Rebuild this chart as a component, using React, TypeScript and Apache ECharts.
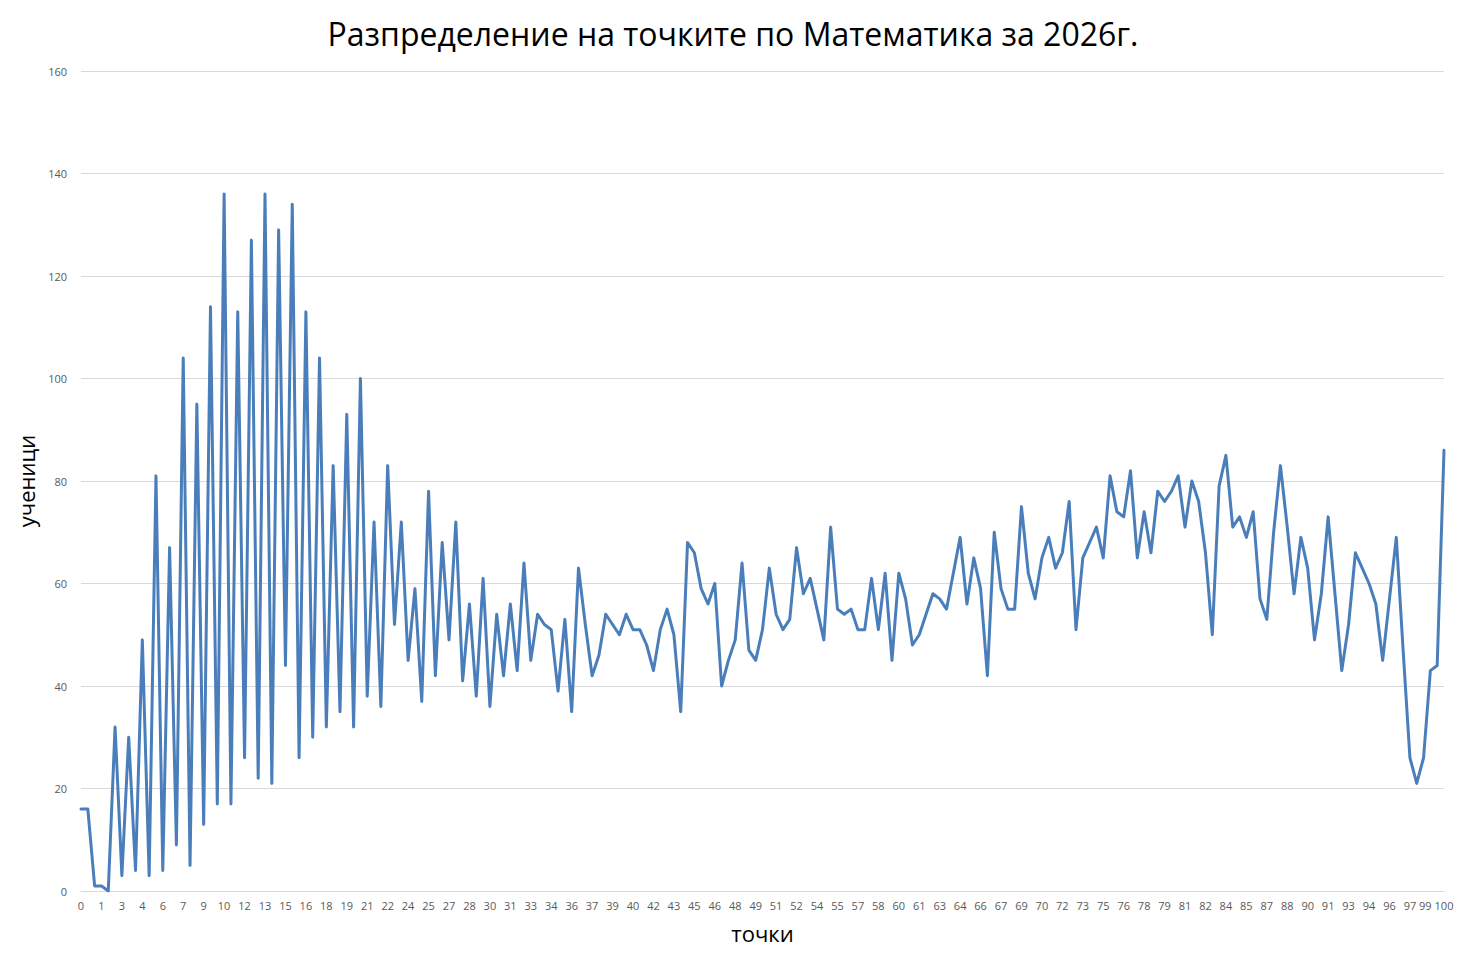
import React, { useEffect, useRef } from "react";
import * as echarts from "echarts";

const titleText = "Разпределение на точките по Математика за 2026г.";
const xAxisName = "точки";
const yAxisName = "ученици";

// points, step 0.5
const categories = [
  0, 0.5, 1, 1.5, 2, 2.5, 3, 3.5, 4, 4.5, 5, 5.5, 6, 6.5, 7, 7.5, 8, 8.5, 9, 9.5,
  10, 10.5, 11, 11.5, 12, 12.5, 13, 13.5, 14, 14.5, 15, 15.5, 16, 16.5, 17, 17.5, 18, 18.5, 19, 19.5,
  20, 20.5, 21, 21.5, 22, 22.5, 23, 23.5, 24, 24.5, 25, 25.5, 26, 26.5, 27, 27.5, 28, 28.5, 29, 29.5,
  30, 30.5, 31, 31.5, 32, 32.5, 33, 33.5, 34, 34.5, 35, 35.5, 36, 36.5, 37, 37.5, 38, 38.5, 39, 39.5,
  40, 40.5, 41, 41.5, 42, 42.5, 43, 43.5, 44, 44.5, 45, 45.5, 46, 46.5, 47, 47.5, 48, 48.5, 49, 49.5,
  50, 50.5, 51, 51.5, 52, 52.5, 53, 53.5, 54, 54.5, 55, 55.5, 56, 56.5, 57, 57.5, 58, 58.5, 59, 59.5,
  60, 60.5, 61, 61.5, 62, 62.5, 63, 63.5, 64, 64.5, 65, 65.5, 66, 66.5, 67, 67.5, 68, 68.5, 69, 69.5,
  70, 70.5, 71, 71.5, 72, 72.5, 73, 73.5, 74, 74.5, 75, 75.5, 76, 76.5, 77, 77.5, 78, 78.5, 79, 79.5,
  80, 80.5, 81, 81.5, 82, 82.5, 83, 83.5, 84, 84.5, 85, 85.5, 86, 86.5, 87, 87.5, 88, 88.5, 89, 89.5,
  90, 90.5, 91, 91.5, 92, 92.5, 93, 93.5, 94, 94.5, 95, 95.5, 96, 96.5, 97, 97.5, 98, 98.5, 99, 99.5,
  100,
];

// number of students per score
const students = [
  16, 16, 1, 1, 0, 32, 3, 30, 4, 49, 3, 81, 4, 67, 9, 104, 5, 95, 13, 114,
  17, 136, 17, 113, 26, 127, 22, 136, 21, 129, 44, 134, 26, 113, 30, 104, 32, 83, 35, 93,
  32, 100, 38, 72, 36, 83, 52, 72, 45, 59, 37, 78, 42, 68, 49, 72, 41, 56, 38, 61,
  36, 54, 42, 56, 43, 64, 45, 54, 52, 51, 39, 53, 35, 63, 52, 42, 46, 54, 52, 50,
  54, 51, 51, 48, 43, 51, 55, 50, 35, 68, 66, 59, 56, 60, 40, 45, 49, 64, 47, 45,
  51, 63, 54, 51, 53, 67, 58, 61, 55, 49, 71, 55, 54, 55, 51, 51, 61, 51, 62, 45,
  62, 57, 48, 50, 54, 58, 57, 55, 62, 69, 56, 65, 59, 42, 70, 59, 55, 55, 75, 62,
  57, 65, 69, 63, 66, 76, 51, 65, 68, 71, 65, 81, 74, 73, 82, 65, 74, 66, 78, 76,
  78, 81, 71, 80, 76, 66, 50, 79, 85, 71, 73, 69, 74, 57, 53, 70, 83, 71, 58, 69,
  63, 49, 58, 73, 58, 43, 52, 66, 63, 60, 56, 45, 57, 69, 47, 26, 21, 26, 43, 44,
  86,
];

const yMin = 0;
const yMax = 160;
const yStep = 20;
const labelEvery = 3;

export default function App() {
  const ref = useRef<HTMLDivElement>(null);

  useEffect(() => {
    if (!ref.current) return;
    const chart = echarts.init(ref.current, null, { renderer: "svg" });
    const font = "'Open Sans', 'Noto Sans', sans-serif";
    const lastIndex = categories.length - 1;
    const lastRegular = lastIndex - (lastIndex % labelEvery === 0 ? labelEvery : lastIndex % labelEvery);
    const catStrings = categories.map((c) => String(c));
    const labelStyle = { fontFamily: font, fontSize: 11, color: "#595959" };
    const labelBase = {
      ...labelStyle,
      margin: 9,
      hideOverlap: false,
    };
    chart.setOption({
      animation: false,
      backgroundColor: "#ffffff",
      title: {
        text: titleText,
        left: "center",
        top: 12,
        textStyle: {
          fontFamily: font,
          fontSize: 32,
          fontWeight: "normal",
          color: "#000000",
        },
      },
      grid: { left: 81, right: 22, top: 71, bottom: 75, containLabel: false },
      xAxis: [
        {
          type: "category",
          data: catStrings,
          boundaryGap: false,
          name: xAxisName,
          nameLocation: "middle",
          nameGap: 31,
          nameTextStyle: { fontFamily: font, fontSize: 22, color: "#000000" },
          axisLine: { show: true, lineStyle: { color: "#d9d9d9", width: 1 } },
          axisTick: { show: false },
          splitLine: { show: false },
          axisLabel: {
            ...labelBase,
            interval: (index: number) => index % labelEvery === 0,
            formatter: (v: string, idx: number) => {
              const t = String(Math.trunc(parseFloat(v)));
              return idx === lastRegular ? `{shift|${t}}` : t;
            },
            rich: { shift: { ...labelStyle, padding: [0, 10, 0, 0] } },
          },
        },
        {
          // carries only the last tick label ("100") so it does not hide "99"
          type: "category",
          data: catStrings,
          boundaryGap: false,
          position: "bottom",
          axisLine: { show: false },
          axisTick: { show: false },
          splitLine: { show: false },
          axisLabel: {
            ...labelBase,
            interval: (index: number) => index === lastIndex,
            formatter: (v: string) => String(Math.trunc(parseFloat(v))),
            showMaxLabel: true,
          },
        },
      ],
      yAxis: {
        type: "value",
        min: yMin,
        max: yMax,
        interval: yStep,
        name: yAxisName,
        nameLocation: "middle",
        nameGap: 40,
        nameRotate: 90,
        nameTextStyle: { fontFamily: font, fontSize: 22, color: "#000000" },
        axisLine: { show: false },
        axisTick: { show: false },
        splitLine: { show: true, lineStyle: { color: "#d9d9d9", width: 1 } },
        axisLabel: {
          fontFamily: font,
          fontSize: 11,
          color: "#595959",
          margin: 14,
        },
      },
      series: [
        {
          type: "line",
          xAxisIndex: 0,
          data: students,
          symbol: "none",
          smooth: false,
          lineStyle: { color: "#4a7ebb", width: 3, join: "round", cap: "round" },
          itemStyle: { color: "#4a7ebb" },
        },
      ],
    });
    return () => chart.dispose();
  }, []);

  return (
    <div
      ref={ref}
      style={{ position: "fixed", left: 0, top: 0, width: 1466, height: 966 }}
    />
  );
}
